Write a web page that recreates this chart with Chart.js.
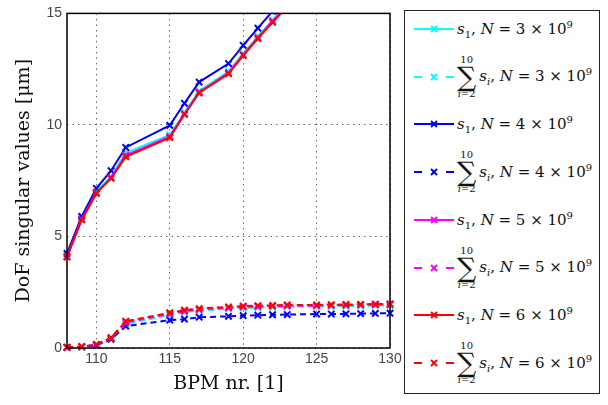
<!DOCTYPE html>
<html>
<head>
<meta charset="utf-8">
<script src="https://cdn.jsdelivr.net/npm/chart.js@4.4.1/dist/chart.umd.min.js"></script>
<style>
  body { margin: 0; background: #fff; }
  #wrap { position: relative; width: 608px; height: 405px; }
  #myChart { position: absolute; left: 0; top: 0; }
  #legend {
    position: absolute; left: 404px; top: 10px; width: 196px; height: 384px;
    border: 1.5px solid #222; box-sizing: border-box; background: #fff;
    font-family: "DejaVu Serif", serif; font-size: 15px; color: #111;
  }
  .row { position: absolute; left: 0; height: 0; }
  .row svg { position: absolute; left: 8px; top: -6px; }
  .txt { position: absolute; left: 52px; top: 0; transform: translateY(-50%);
         white-space: nowrap; display: flex; align-items: center; }
  .txt sub, .txt sup { font-size: 10px; }
  .sum { display: inline-flex; flex-direction: column; align-items: center;
         line-height: 1; margin-right: 3px; }
  .sum .lim { font-size: 10px; }
  .sum .sig { font-size: 27px; line-height: 0.9; }
</style>
</head>
<body>
<div id="wrap">
  <canvas id="myChart" width="608" height="405"></canvas>
  <div id="legend"></div>
</div>
<script>
// BPM-Nummern (x-Werte)
const bpm = [108, 109, 110, 111, 112, 115, 116, 117, 119, 120, 121, 122, 123, 125, 126, 127, 128, 129, 130];

// s_1 (oberhalb von 15 abgeschnitten)
const s1N3 = [4.15, 5.80, 7.00, 7.68, 8.75, 9.55, 10.55, 11.52, 12.40, 13.20, 13.97, 14.70, 15.40, null, null, null, null, null, null];
const s1N4 = [4.24, 5.90, 7.16, 7.95, 8.99, 9.98, 10.97, 11.92, 12.75, 13.57, 14.34, 15.10, 15.90, null, null, null, null, null, null];
const s1N5 = [4.10, 5.77, 6.96, 7.64, 8.64, 9.48, 10.50, 11.47, 12.34, 13.15, 13.92, 14.65, 15.35, null, null, null, null, null, null];
const s1N6 = [4.08, 5.74, 6.93, 7.60, 8.57, 9.43, 10.47, 11.43, 12.29, 13.11, 13.87, 14.60, 15.30, null, null, null, null, null, null];

// Summe s_2 .. s_10
const sumN3 = [0.03, 0.06, 0.14, 0.42, 1.08, 1.48, 1.60, 1.68, 1.75, 1.79, 1.81, 1.83, 1.85, 1.86, 1.87, 1.88, 1.89, 1.90, 1.91];
const sumN4 = [0.02, 0.05, 0.12, 0.39, 0.98, 1.25, 1.29, 1.38, 1.42, 1.45, 1.47, 1.49, 1.50, 1.52, 1.52, 1.53, 1.54, 1.55, 1.56];
const sumN5 = [0.03, 0.06, 0.15, 0.44, 1.14, 1.53, 1.65, 1.72, 1.80, 1.84, 1.86, 1.87, 1.89, 1.90, 1.91, 1.92, 1.93, 1.94, 1.95];
const sumN6 = [0.03, 0.06, 0.16, 0.46, 1.20, 1.58, 1.70, 1.77, 1.84, 1.88, 1.90, 1.91, 1.93, 1.93, 1.94, 1.95, 1.96, 1.97, 1.98];

const nValues = [3, 4, 5, 6];
const colors = ["#00ffff", "#0000ff", "#ff00ff", "#ff0000"];
const xTicks = [110, 115, 120, 125, 130];
const yTicks = [0, 5, 10, 15];

const s1Series = [s1N3, s1N4, s1N5, s1N6];
const sumSeries = [sumN3, sumN4, sumN5, sumN6];

// Datensätze aufbauen: s_1 durchgezogen, Summe gestrichelt
const datasets = [];
nValues.forEach((n, k) => {
  [s1Series[k], sumSeries[k]].forEach((vals, j) => {
    datasets.push({
      data: bpm.map((x, i) => ({ x: x, y: vals[i] })),
      borderColor: colors[k],
      backgroundColor: colors[k],
      borderWidth: 2,
      borderDash: j === 1 ? [6, 4] : [],
      pointStyle: "crossRot",
      pointRadius: 4.5,
      pointBorderWidth: 2,
      pointBorderColor: colors[k],
      fill: false,
      tension: 0,
      spanGaps: false,
      clip: { left: 8, right: 8, top: 0, bottom: 8 },
    });
  });
});
// rot zuletzt gezeichnet (oben)
datasets.forEach((d, i) => { d.order = datasets.length - i; });

// Rahmen um die Zeichenfläche
const frame = {
  id: "frame",
  afterDraw(chart) {
    const { ctx, chartArea: a } = chart;
    ctx.save();
    ctx.strokeStyle = "#000";
    ctx.lineWidth = 1.5;
    ctx.setLineDash([]);
    ctx.strokeRect(a.left, a.top, a.right - a.left, a.bottom - a.top);
    ctx.restore();
  },
};

const tickFont = { family: "Liberation Sans", size: 14 };
const titleFont = { family: "DejaVu Serif", size: 19 };

new Chart(document.getElementById("myChart"), {
  type: "line",
  data: { datasets: datasets },
  plugins: [frame],
  options: {
    responsive: false,
    animation: false,
    layout: { padding: { left: 0, top: 12, right: 218, bottom: 0 } },
    plugins: { legend: { display: false }, tooltip: { enabled: false } },
    scales: {
      x: {
        type: "linear",
        min: 108,
        max: 130,
        afterBuildTicks: (s) => { s.ticks = xTicks.map((v) => ({ value: v })); },
        afterFit: (s) => { s.height = 57; },
        ticks: { font: tickFont, color: "#444", padding: 3, maxRotation: 0 },
        grid: { color: "#666", lineWidth: 1, drawTicks: false },
        border: { display: false, dash: [1.5, 4] },
        title: { display: true, text: "BPM nr. [1]", font: titleFont, color: "#111", padding: { top: 0, bottom: 10 } },
      },
      y: {
        type: "linear",
        min: 0,
        max: 15,
        afterBuildTicks: (s) => { s.ticks = yTicks.map((v) => ({ value: v })); },
        afterFit: (s) => { s.width = 67; },
        ticks: { font: tickFont, color: "#444", padding: 5 },
        grid: { color: "#666", lineWidth: 1, drawTicks: false },
        border: { display: false, dash: [1.5, 4] },
        title: { display: true, text: "DoF singular values [μm]", font: titleFont, color: "#111", padding: { top: 13, bottom: 0 } },
      },
    },
  },
});

// Legende (HTML, wegen Summenzeichen)
function sample(color, dashed) {
  const line = dashed
    ? `<line x1="1" y1="6" x2="9" y2="6"/><line x1="33" y1="6" x2="41" y2="6"/>`
    : `<line x1="1" y1="6" x2="41" y2="6"/>`;
  return `<svg width="44" height="12" stroke="${color}" stroke-width="2">${line}` +
    `<line x1="18" y1="3" x2="24" y2="9"/><line x1="18" y1="9" x2="24" y2="3"/></svg>`;
}
const legend = document.getElementById("legend");
let html = "";
nValues.forEach((n, k) => {
  const y1 = 18 + (2 * k) * 47.7;
  const y2 = 18 + (2 * k + 1) * 47.7;
  html += `<div class="row" style="top:${y1}px">${sample(colors[k], false)}` +
    `<div class="txt"><span><i>s</i><sub>1</sub>, <i>N</i> = ${n} × 10<sup>9</sup></span></div></div>`;
  html += `<div class="row" style="top:${y2}px">${sample(colors[k], true)}` +
    `<div class="txt"><span class="sum"><span class="lim">10</span><span class="sig">∑</span><span class="lim"><i>i</i>=2</span></span>` +
    `<span><i>s</i><sub><i>i</i></sub>, <i>N</i> = ${n} × 10<sup>9</sup></span></div></div>`;
});
legend.innerHTML = html;
</script>
</body>
</html>
